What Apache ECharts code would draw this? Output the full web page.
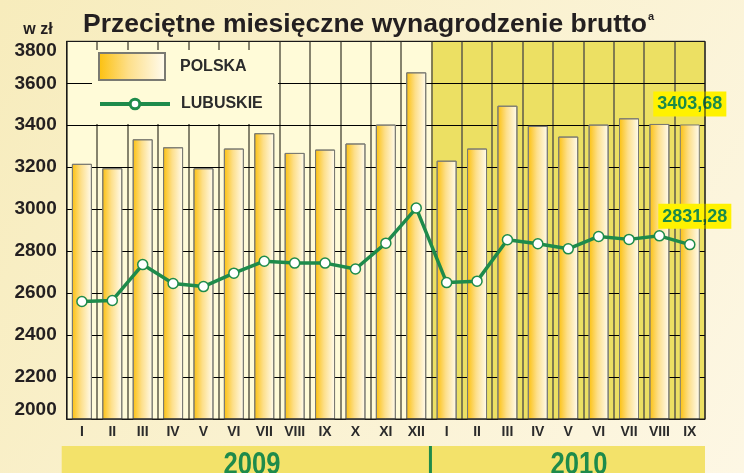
<!DOCTYPE html>
<html>
<head>
<meta charset="utf-8">
<script src="https://cdn.jsdelivr.net/npm/echarts@6/dist/echarts.min.js"></script>
<style>
  html, body { margin: 0; padding: 0; }
  #chart { width: 744px; height: 473px; }
</style>
</head>
<body>
<div id="chart"></div>
<script>
  // miesiące (cyfry rzymskie) i lata
  var years = ['2009', '2010'];
  var months2009 = ['I', 'II', 'III', 'IV', 'V', 'VI', 'VII', 'VIII', 'IX', 'X', 'XI', 'XII'];
  var months2010 = ['I', 'II', 'III', 'IV', 'V', 'VI', 'VII', 'VIII', 'IX'];

  // przeciętne wynagrodzenie brutto, zł
  var polska = [3216, 3195, 3333, 3295, 3195, 3289, 3362, 3268, 3284, 3313, 3403, 3652,
                3231, 3289, 3493, 3397, 3346, 3403, 3433, 3406, 3403.68];
  var lubuskie = [2560, 2565, 2736, 2646, 2631, 2695, 2752, 2743, 2743, 2715, 2838, 3005,
                  2650, 2657, 2854, 2835, 2811, 2870, 2856, 2873, 2831.28];

  // skala osi Y
  var yMin = 2000, yMax = 3800, yStep = 200;

  var FONT = "'Liberation Sans', Arial, sans-serif";
  var GREEN = '#1e8b4b';

  // unikalne kategorie: "rok-miesiąc"
  var cats = months2009.map(function (m) { return years[0] + '-' + m; })
    .concat(months2010.map(function (m) { return years[1] + '-' + m; }));

  function plValue(v) {
    return v.toFixed(2).replace('.', ',');
  }

  var last = cats.length - 1;
  var valueLabel = {
    show: true,
    position: 'top',
    color: '#1b8a4a',
    fontFamily: FONT,
    fontWeight: 'bold',
    fontSize: 18,
    backgroundColor: '#fff200',
    padding: [4, 4, 3, 4],
    formatter: function (p) { return plValue(p.value); }
  };

  var barData = polska.map(function (v, i) {
    if (i !== last) return v;
    return { value: v, label: Object.assign({}, valueLabel, { distance: 8 }) };
  });
  var lineData = lubuskie.map(function (v, i) {
    if (i !== last) return v;
    return { value: v, label: Object.assign({}, valueLabel, { distance: 10, offset: [5, 0] }) };
  });

  var chart = echarts.init(document.getElementById('chart'), null, { renderer: 'canvas' });

  var option = {
    animation: false,
    backgroundColor: new echarts.graphic.LinearGradient(0, 0, 1, 1, [
      { offset: 0, color: '#f7ecbc' },
      { offset: 1, color: '#fdf7e4' }
    ]),
    textStyle: { fontFamily: FONT },
    title: {
      text: '{t|Przeciętne miesięczne wynagrodzenie brutto}{s|a}',
      left: 78,
      top: 6,
      textStyle: {
        rich: {
          t: { fontFamily: FONT, fontWeight: 'bold', fontSize: 26.5, color: '#231f20' },
          s: { fontFamily: FONT, fontWeight: 'bold', fontSize: 11, color: '#231f20',
               verticalAlign: 'top', padding: [0, 0, 14, 1] }
        }
      }
    },
    grid: {
      left: 66.7,
      right: 39,
      top: 41.3,
      bottom: 54
    },
    legend: [
      {
        data: [{ name: 'POLSKA', icon: 'rect' }],
        left: 93,
        top: 47,
        z: 20,
        itemWidth: 66,
        itemHeight: 27,
        textStyle: { fontFamily: FONT, fontWeight: 'bold', fontSize: 16, color: '#2b2b2b',
                     padding: [0, 0, 0, 10] }
      },
      {
        data: ['LUBUSKIE'],
        left: 93,
        top: 91,
        z: 20,
        itemWidth: 70,
        itemHeight: 12,
        lineStyle: { width: 4, color: GREEN },
        itemStyle: { color: '#ffffff', borderColor: GREEN, borderWidth: 3 },
        textStyle: { fontFamily: FONT, fontWeight: 'bold', fontSize: 16, color: '#2b2b2b',
                     padding: [0, 0, 0, 6] }
      }
    ],
    xAxis: {
      type: 'category',
      data: cats,
      axisLine: { lineStyle: { color: '#1a1a1a', width: 1 } },
      axisTick: { show: false },
      axisLabel: {
        interval: 0,
        margin: 6,
        fontFamily: FONT,
        fontWeight: 'bold',
        fontSize: 14,
        color: '#2b2b2b',
        formatter: function (v) { return v.split('-')[1]; }
      },
      splitLine: { show: true, interval: 0, lineStyle: { color: '#5e5b4a', width: 1.5 } }
    },
    yAxis: {
      type: 'value',
      min: yMin,
      max: yMax,
      interval: yStep,
      name: 'w zł',
      nameLocation: 'end',
      nameGap: 12,
      nameTextStyle: {
        fontFamily: FONT, fontWeight: 'bold', fontSize: 16, color: '#231f20',
        align: 'right', verticalAlign: 'middle', padding: [0, 14, 0, 0]
      },
      axisLine: { show: true, lineStyle: { color: '#1a1a1a' } },
      axisTick: { show: false },
      axisLabel: {
        margin: 10,
        fontFamily: FONT,
        fontWeight: 'bold',
        fontSize: 19,
        color: '#231f20',
        verticalAlignMaxLabel: 'top',
        verticalAlignMinLabel: 'bottom',
        formatter: function (v) { return String(v); }
      },
      splitLine: { show: true, lineStyle: { color: '#1a1a1a', width: 1 } }
    },
    series: [
      {
        name: 'POLSKA',
        type: 'bar',
        z: 10,
        barWidth: 20,
        data: barData,
        itemStyle: {
          color: new echarts.graphic.LinearGradient(0, 0, 1, 0, [
            { offset: 0, color: '#fcc00c' },
            { offset: 0.45, color: '#fddf8a' },
            { offset: 1, color: '#fffcf0' }
          ]),
          borderColor: '#7a7a72',
          borderWidth: 1
        }
      },
      {
        name: 'LUBUSKIE',
        type: 'line',
        data: lineData,
        z: 11,
        symbol: 'circle',
        symbolSize: 10,
        lineStyle: { color: GREEN, width: 3.5 },
        itemStyle: { color: '#ffffff', borderColor: GREEN, borderWidth: 1.5 }
      }
    ]
  };

  chart.setOption(option);

  // tło obszaru wykresu: 2009 jasne, 2010 oliwkowe (pozycje z osi)
  var c0 = chart.convertToPixel({ xAxisIndex: 0 }, cats[0]);
  var c1 = chart.convertToPixel({ xAxisIndex: 0 }, cats[1]);
  var band = c1 - c0;
  var xLeft = c0 - band / 2;
  var xSplit = chart.convertToPixel({ xAxisIndex: 0 }, cats[months2009.length]) - band / 2;
  var xRight = chart.convertToPixel({ xAxisIndex: 0 }, cats[last]) + band / 2;
  var yTop = chart.convertToPixel({ yAxisIndex: 0 }, yMax);
  var yBot = chart.convertToPixel({ yAxisIndex: 0 }, yMin);

  var graphics = [
    { type: 'rect', z: -1, shape: { x: xLeft, y: yTop, width: xSplit - xLeft, height: yBot - yTop },
      style: { fill: '#fffbd8' } },
    { type: 'rect', z: -1, shape: { x: xSplit, y: yTop, width: xRight - xSplit, height: yBot - yTop },
      style: { fill: '#ece063' } }
  ];

  // poziome linie siatki na podziałkach osi Y (pod słupkami)
  for (var v = yMin + yStep; v < yMax; v += yStep) {
    var py = Math.round(chart.convertToPixel({ yAxisIndex: 0 }, v)) + 0.5;
    graphics.push({ type: 'line', z: 8, silent: true,
      shape: { x1: xLeft, y1: py, x2: xRight, y2: py },
      style: { stroke: '#000000', lineWidth: 1.2 } });
  }

  graphics.push(
    // ramka obszaru wykresu
    { type: 'rect', z: 12, shape: { x: xLeft, y: yTop, width: xRight - xLeft, height: yBot - yTop },
      style: { fill: null, stroke: '#1a1a1a', lineWidth: 1 } },
    // tło pod legendą zasłania siatkę
    { type: 'rect', z: 9, shape: { x: 92, y: 50, width: 186, height: 74 },
      style: { fill: '#fffbd8' } },
    // pas z latami na dole
    { type: 'rect', z: 3, shape: { x: xLeft - 5, y: 446, width: xRight - xLeft + 5, height: 40 },
      style: { fill: '#f3e26a' } },
    { type: 'line', z: 4, shape: { x1: xSplit - 1, y1: 446, x2: xSplit - 1, y2: 473 },
      style: { stroke: GREEN, lineWidth: 3 } },
    { type: 'text', z: 4, x: 252, y: 449, scaleX: 0.8,
      style: { text: years[0], fill: GREEN, font: "bold 32px " + FONT,
               textAlign: 'center', textVerticalAlign: 'top' } },
    { type: 'text', z: 4, x: 579, y: 449, scaleX: 0.8,
      style: { text: years[1], fill: GREEN, font: "bold 32px " + FONT,
               textAlign: 'center', textVerticalAlign: 'top' } }
  );

  chart.setOption({ graphic: graphics });
</script>
</body>
</html>
